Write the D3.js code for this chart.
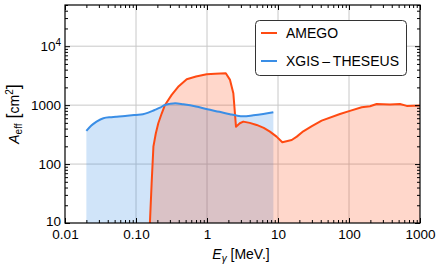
<!DOCTYPE html>
<html>
<head>
<meta charset="utf-8">
<script src="https://d3js.org/d3.v7.min.js"></script>
<style>
body { margin: 0; background: #fff; }
svg text { font-family: "Liberation Sans", Arial, sans-serif; fill: #000; }
.grid { stroke: #c8c8c8; stroke-width: 1; }
.axis path { display: none; }
.axis line { stroke: #000; stroke-width: 1; }
</style>
</head>
<body>
<svg width="437" height="270"></svg>
<script>
// AMEGO effective area (MeV, cm^2)
const amegoE = [0.157, 0.166, 0.176, 0.19, 0.206, 0.23, 0.256, 0.318, 0.4, 0.518, 0.7, 0.99, 1.3, 1.84, 2.11, 2.35, 2.56, 2.9, 3.24, 4.0, 5.0, 6.3, 7.7, 9.55, 11.5, 15.6, 18.4, 22.7, 30, 41.2, 74.7, 103, 151, 198, 245, 378, 522, 650, 1000]
const amegoA = [10, 47, 200, 330, 493, 720, 1007, 1490, 2100, 2755, 3050, 3350, 3400, 3475, 2680, 1590, 431, 493, 525, 500, 461, 410, 355, 292, 234, 256, 292, 360, 440, 546, 708, 800, 921, 958, 1045, 1020, 1045, 970, 985]

// XGIS-THESEUS effective area
const xgisE = [0.02, 0.0235, 0.0278, 0.0347, 0.045, 0.0535, 0.075, 0.1, 0.125, 0.149, 0.18, 0.218, 0.256, 0.3, 0.356, 0.464, 0.7, 1.01, 1.5, 2.11, 2.6, 3.24, 4.49, 6.2, 8.6]
const xgisA = [365, 450, 525, 600, 625, 638, 660, 682, 700, 746, 820, 907, 1007, 1050, 1077, 1035, 950, 851, 770, 700, 665, 645, 673, 710, 757]

const xMajor = [0.01, 0.1, 1, 10, 100, 1000]
const xLabels = ["0.01", "0.10", "1", "10", "100", "1000"]
const yMajor = [10, 100, 1000, 10000]
const yLabels = ["10", "100", "1000", "10^4"]
const seriesNames = ["AMEGO", "XGIS\u2009\u2013\u2009THESEUS"]

const pLeft = 65, pRight = 420, pTop = 5, pBottom = 223

let svg = d3.select("svg")

let x = d3.scaleLog().domain([0.01, 1000]).range([pLeft, pRight])
let y = d3.scaleLog().domain([10, 50000]).range([pBottom, pTop])

// minor ticks: 2..9 in every decade
function minors(lo, hi) {
    let out = []
    for (let p = lo; p < hi; p *= 10)
        for (let k = 2; k <= 9; k++) {
            let v = +(p * k).toPrecision(3)
            if (v <= hi * 1.0001) out.push(v)
        }
    return out
}
const xMinor = minors(0.01, 1000)
const yMinor = minors(10, 50000)

// grid
svg.append("g").selectAll("line").data([0.1, 1, 10, 100]).enter().append("line")
    .attr("class", "grid")
    .attr("x1", d => x(d)).attr("x2", d => x(d))
    .attr("y1", pTop).attr("y2", pBottom)
svg.append("g").selectAll("line").data([100, 1000, 10000]).enter().append("line")
    .attr("class", "grid")
    .attr("x1", pLeft).attr("x2", pRight)
    .attr("y1", d => y(d)).attr("y2", d => y(d))

svg.append("clipPath").attr("id", "clip")
    .append("rect").attr("x", pLeft).attr("y", pTop)
    .attr("width", pRight - pLeft).attr("height", pBottom - pTop)

let plot = svg.append("g").attr("clip-path", "url(#clip)")

const amego = amegoE.map((e, i) => [e, amegoA[i]])
const xgis = xgisE.map((e, i) => [e, xgisA[i]])

let area = d3.area().x(d => x(d[0])).y0(y(10)).y1(d => y(d[1]))
let line = d3.line().x(d => x(d[0])).y(d => y(d[1]))

plot.append("path").datum(xgis)
    .attr("d", area.curve(d3.curveMonotoneX))
    .attr("fill", "#3a8ee6").attr("fill-opacity", 0.24)
plot.append("path").datum(amego)
    .attr("d", area.curve(d3.curveLinear))
    .attr("fill", "#ff4a12").attr("fill-opacity", 0.22)

plot.append("path").datum(amego)
    .attr("d", line.curve(d3.curveLinear))
    .attr("fill", "none").attr("stroke", "#ff4a12").attr("stroke-width", 2)
    .attr("stroke-linejoin", "round")
plot.append("path").datum(xgis)
    .attr("d", line.curve(d3.curveMonotoneX))
    .attr("fill", "none").attr("stroke", "#3a8ee6").attr("stroke-width", 2)

// axes (ticks point inward)
function addAxis(axisFn, scale, transform, major, minor, labels) {
    let ax = axisFn(scale).tickValues(major).tickSize(-5).tickPadding(labels ? 6 : 0)
        .tickFormat(labels ? ((d, i) => labels[i]) : "")
    let g = svg.append("g").attr("class", "axis").attr("transform", transform).call(ax)
    svg.append("g").attr("class", "axis").attr("transform", transform)
        .call(axisFn(scale).tickValues(minor).tickSize(-3).tickFormat(""))
    return g
}

let xg = addAxis(d3.axisBottom, x, `translate(0,${pBottom})`, xMajor, xMinor, xLabels)
addAxis(d3.axisTop, x, `translate(0,${pTop})`, xMajor, xMinor, null)
let yg = addAxis(d3.axisLeft, y, `translate(${pLeft},0)`, yMajor, yMinor, yLabels)
addAxis(d3.axisRight, y, `translate(${pRight},0)`, yMajor, yMinor, null)

xg.selectAll("text").attr("font-size", "13.5px").attr("font-family", null)
yg.selectAll("text").attr("font-size", "13.5px").attr("font-family", null).attr("x", -4)
    .each(function (d, i) {
        let t = d3.select(this)
        if (i === 0) t.attr("y", -2)   // keep the bottom label clear of "0.01"
        if (yLabels[i].includes("^")) {
            let parts = yLabels[i].split("^")
            t.text(parts[0])
            t.append("tspan").attr("dy", "-0.55em").attr("font-size", "10px").text(parts[1])
        }
    })

// frame
svg.append("rect").attr("x", pLeft).attr("y", pTop)
    .attr("width", pRight - pLeft).attr("height", pBottom - pTop)
    .attr("fill", "none").attr("stroke", "#000").attr("stroke-width", 1.2)

// axis titles
let xt = svg.append("text").attr("x", 241).attr("y", 259).attr("text-anchor", "middle")
    .attr("font-size", "14px")
xt.append("tspan").attr("font-style", "italic").text("E")
xt.append("tspan").attr("font-style", "italic").attr("font-size", "10px").attr("dy", "3").text("\u03b3")
xt.append("tspan").attr("dy", "-3").text(" [MeV.]")

let yt = svg.append("text").attr("transform", "translate(19,114) rotate(-90)")
    .attr("text-anchor", "middle").attr("font-size", "14px")
yt.append("tspan").attr("font-style", "italic").text("A")
yt.append("tspan").attr("font-size", "10px").attr("dy", "3").text("eff")
yt.append("tspan").attr("dy", "-3").attr("font-size", "18px").attr("font-weight", "200").text(" [")
yt.append("tspan").text("cm")
yt.append("tspan").attr("font-size", "10px").attr("dy", "-6").text("2")
yt.append("tspan").attr("dy", "6").attr("font-size", "18px").text("]")

// legend
let lg = svg.append("g")
lg.append("rect").attr("x", 255.5).attr("y", 20.5).attr("width", 151).attr("height", 55)
    .attr("rx", 4).attr("fill", "#fff").attr("stroke", "#333").attr("stroke-width", 1)
const legendColors = ["#ff4a12", "#3a8ee6"]
seriesNames.forEach((name, i) => {
    let ly = 33 + i * 28
    lg.append("line").attr("x1", 261).attr("x2", 277).attr("y1", ly).attr("y2", ly)
        .attr("stroke", legendColors[i]).attr("stroke-width", 2)
    lg.append("text").attr("x", 286).attr("y", ly + 5).attr("font-size", "14px").text(name)
})
</script>
</body>
</html>
